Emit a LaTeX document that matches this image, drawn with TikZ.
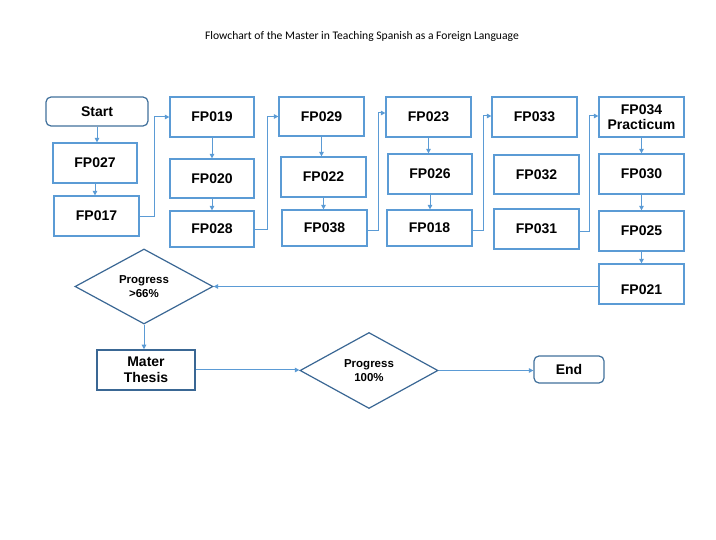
\documentclass[tikz,border=0pt]{standalone}
\usepackage{fontspec}
\setmainfont{Liberation Sans}
\newfontfamily\titlefont{Carlito}
\usetikzlibrary{arrows.meta,shapes.geometric}
\definecolor{boxblue}{HTML}{5B9BD5}
\definecolor{darkblue}{HTML}{41719C}
\definecolor{dmblue}{HTML}{3A6794}
\tikzset{
  box/.style={draw=boxblue, line width=1.2pt, fill=white, inner sep=0pt,
    font=\fontsize{14}{16}\selectfont\bfseries, align=center},
  term/.style={box, draw=darkblue, rounded corners=5pt},
  thesis/.style={box, draw=dmblue, line width=1.5pt},
  dec/.style={diamond, draw=dmblue, line width=1.2pt, fill=white, inner sep=0pt, aspect=1.84,
    font=\fontsize{11.5}{14}\selectfont\bfseries, align=center},
  arr/.style={draw=boxblue, line width=1pt, -{Triangle[length=4.5pt,width=4.5pt]}},
}
\begin{document}
\begin{tikzpicture}[x=1pt,y=-1pt]
\useasboundingbox[fill=white] (0,0) rectangle (716,540);
\node[font=\titlefont\fontsize{11.6}{13}\selectfont] (title) at (362,36) {Flowchart of the Master in Teaching Spanish as a Foreign Language};

\node[term, minimum width=102pt, minimum height=29pt] (start) at (97,111.5) {Start};
\node[box, minimum width=84pt, minimum height=40pt] (fp027) at (95,163) {FP027};
\node[box, minimum width=85pt, minimum height=40pt] (fp017) at (96.5,216) {FP017};

\node[box, minimum width=84pt, minimum height=40pt] (fp019) at (212,117) {FP019};
\node[box, minimum width=84pt, minimum height=39pt] (fp020) at (212,178.5) {FP020};
\node[box, minimum width=84pt, minimum height=36pt] (fp028) at (212,229) {FP028};

\node[box, minimum width=85pt, minimum height=39pt] (fp029) at (321.5,116.5) {FP029};
\node[box, minimum width=85pt, minimum height=40pt] (fp022) at (323.5,177) {FP022};
\node[box, minimum width=85pt, minimum height=36pt] (fp038) at (324.5,228) {FP038};

\node[box, minimum width=85pt, minimum height=40pt] (fp023) at (428.5,117) {FP023};
\node[box, minimum width=84pt, minimum height=40pt] (fp026) at (430,174) {FP026};
\node[box, minimum width=85pt, minimum height=36pt] (fp018) at (429.5,228) {FP018};

\node[box, minimum width=85pt, minimum height=40pt] (fp033) at (534.5,117) {FP033};
\node[box, minimum width=85pt, minimum height=39pt] (fp032) at (536.5,174.5) {FP032};
\node[box, minimum width=85pt, minimum height=40pt] (fp031) at (536.5,229) {FP031};

\node[box, minimum width=85pt, minimum height=40pt] (fp034) at (641.5,117) {FP034\\[-1pt]Practicum};
\node[box, minimum width=85pt, minimum height=40pt] (fp030) at (641.5,174) {FP030};
\node[box, minimum width=85pt, minimum height=40pt] (fp025) at (641.5,231) {FP025};
\node[box, minimum width=85pt, minimum height=40pt] (fp021) at (641.5,284) {\raisebox{-11pt}[0pt][0pt]{FP021}};

\node[dec, minimum width=138pt, minimum height=75pt] (d1) at (144,286.5) {Progress\\>66\%};
\node[thesis, minimum width=98pt, minimum height=40pt] (mt) at (146,370) {Mater\\Thesis};
\node[dec, minimum width=138pt, minimum height=76pt] (d2) at (369,370.5) {Progress\\100\%};
\node[term, minimum width=70pt, minimum height=27pt] (end) at (569,369.5) {End};

% vertical arrows
\draw[arr] (start.south) -- (start.south |- fp027.north);
\draw[arr] (fp027.south) -- (fp027.south |- fp017.north);
\draw[arr] (fp019.south) -- (fp019.south |- fp020.north);
\draw[arr] (fp020.south) -- (fp020.south |- fp028.north);
\draw[arr] (fp029.south) -- (fp029.south |- fp022.north);
\draw[arr] (fp022.south) -- (fp022.south |- fp038.north);
\draw[arr] (fp023.south) -- (fp023.south |- fp026.north);
\draw[arr] (fp026.south) -- (fp026.south |- fp018.north);
\draw[arr] (fp034.south) -- (fp034.south |- fp030.north);
\draw[arr] (fp030.south) -- (fp030.south |- fp025.north);
\draw[arr] (fp025.south) -- (fp025.south |- fp021.north);

% column links
\draw[arr] ([yshift=-1pt]fp017.east) -- ++(15,0) |- (fp019.west);
\draw[arr] ([yshift=-1pt]fp028.east) -- ++(13,0) |- (fp029.west);
\draw[arr] ([yshift=-2.5pt]fp038.east) -- ++(11,0) |- ([yshift=4pt]fp023.west);
\draw[arr] ([yshift=-2.5pt]fp018.east) -- ++(11,0) |- ([yshift=1pt]fp033.west);
\draw[arr] ([yshift=-2.5pt]fp031.east) -- ++(9.5,0) |- ([yshift=1pt]fp034.west);

% bottom part
\draw[arr] (fp021.west |- d1.east) -- (d1.east);
\draw[arr] (d1.south) -- (d1.south |- mt.north);
\draw[arr] (mt.east) -- (mt.east -| d2.west);
\draw[arr] (d2.east) -- (d2.east -| end.west);
\end{tikzpicture}
\end{document}
